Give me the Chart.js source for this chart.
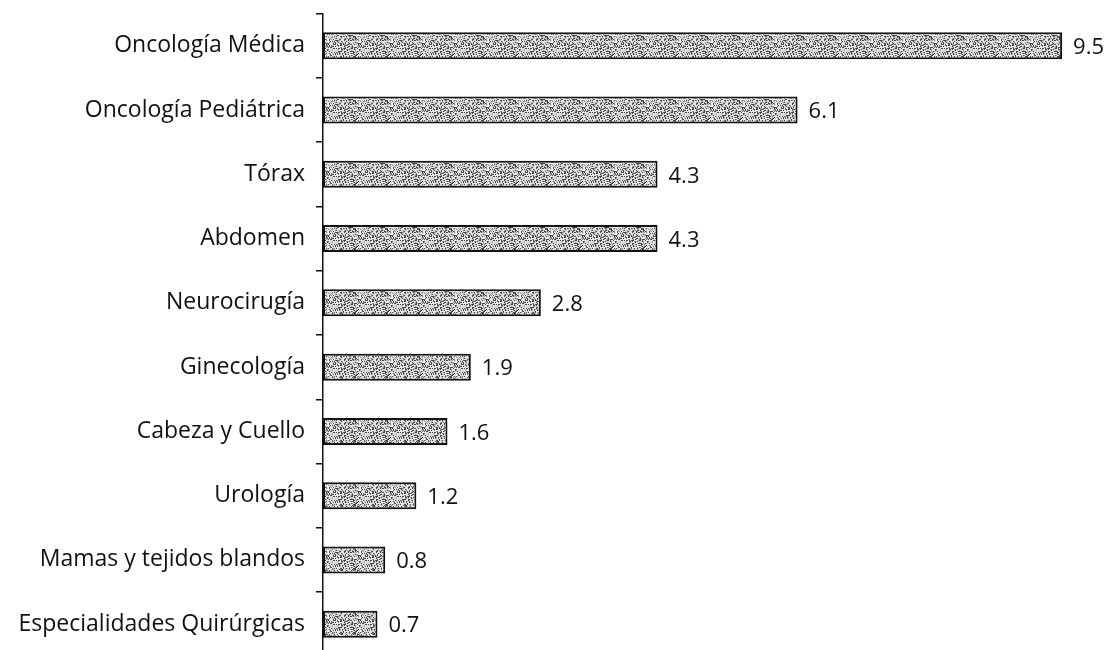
<!DOCTYPE html>
<html>
<head>
<meta charset="utf-8">
<script src="https://cdn.jsdelivr.net/npm/chart.js@4"></script>
<style>
  html, body { margin: 0; padding: 0; background: #fff; overflow: hidden; }
  #wrap { width: 1109px; height: 690px; margin-top: -10px; }
</style>
</head>
<body>
<div id="wrap"><canvas id="myChart"></canvas></div>
<script>
const especialidades = [
  'Oncología Médica',
  'Oncología Pediátrica',
  'Tórax',
  'Abdomen',
  'Neurocirugía',
  'Ginecología',
  'Cabeza y Cuello',
  'Urología',
  'Mamas y tejidos blandos',
  'Especialidades Quirúrgicas'
];
const valores = [9.5, 6.1, 4.3, 4.3, 2.8, 1.9, 1.6, 1.2, 0.8, 0.7];

// speckled gray fill, a fixed hash decides the shade of each pixel
const makeStipple = () => {
  const size = 32;
  const c = document.createElement('canvas');
  c.width = size;
  c.height = size;
  const g = c.getContext('2d');
  g.fillStyle = '#d4d4d4';
  g.fillRect(0, 0, size, size);
  for (let y = 0; y < size; y++) {
    for (let x = 0; x < size; x++) {
      let h = Math.imul(x + 1, 374761393) ^ Math.imul(y + 7, 668265263);
      h = Math.imul(h ^ (h >>> 13), 1274126177);
      h = (h ^ (h >>> 16)) >>> 0;
      const k = (h >>> 20) % 8;
      let shade = null;
      if (k < 2) shade = '#444';
      else if (k === 2) shade = '#8c8c8c';
      else if (k >= 6) shade = '#f2f2f2';
      if (shade) {
        g.fillStyle = shade;
        g.fillRect(x, y, 1, 1);
      }
    }
  }
  return g.createPattern(c, 'repeat');
};

// value written just past the end of each bar
const valueLabels = {
  id: 'valueLabels',
  afterDatasetsDraw(chart) {
    const ctx = chart.ctx;
    const meta = chart.getDatasetMeta(0);
    ctx.save();
    ctx.font = '22px "Open Sans"';
    ctx.fillStyle = '#111';
    ctx.textBaseline = 'middle';
    meta.data.forEach((bar, i) => {
      ctx.fillText(valores[i].toFixed(1), bar.x + 11, bar.y + 2);
    });
    ctx.restore();
  }
};

const config = {
  type: 'bar',
  data: {
    labels: especialidades,
    datasets: [{
      data: valores,
      backgroundColor: makeStipple(),
      borderColor: '#111',
      borderWidth: 2,
      borderSkipped: false,
      barPercentage: 0.42,
      categoryPercentage: 1
    }]
  },
  options: {
    indexAxis: 'y',
    responsive: true,
    maintainAspectRatio: false,
    animation: false,
    layout: { padding: { top: 0, bottom: 0, right: 8, left: 0 } },
    plugins: {
      legend: { display: false },
      tooltip: { enabled: false }
    },
    scales: {
      x: {
        display: false,
        min: 0,
        max: 10
      },
      y: {
        afterFit(scale) { scale.width = 323; },
        border: { display: true, color: '#111', width: 1.5 },
        grid: {
          offset: true,
          drawOnChartArea: false,
          drawTicks: true,
          tickLength: 7,
          color: '#111',
          lineWidth: 1.5
        },
        ticks: {
          color: '#111',
          padding: 11,
          font: { family: 'Open Sans', size: 23, lineHeight: 1.1 }
        }
      }
    }
  },
  plugins: [valueLabels]
};

const myChart = new Chart(document.getElementById('myChart'), config);
</script>
</body>
</html>
